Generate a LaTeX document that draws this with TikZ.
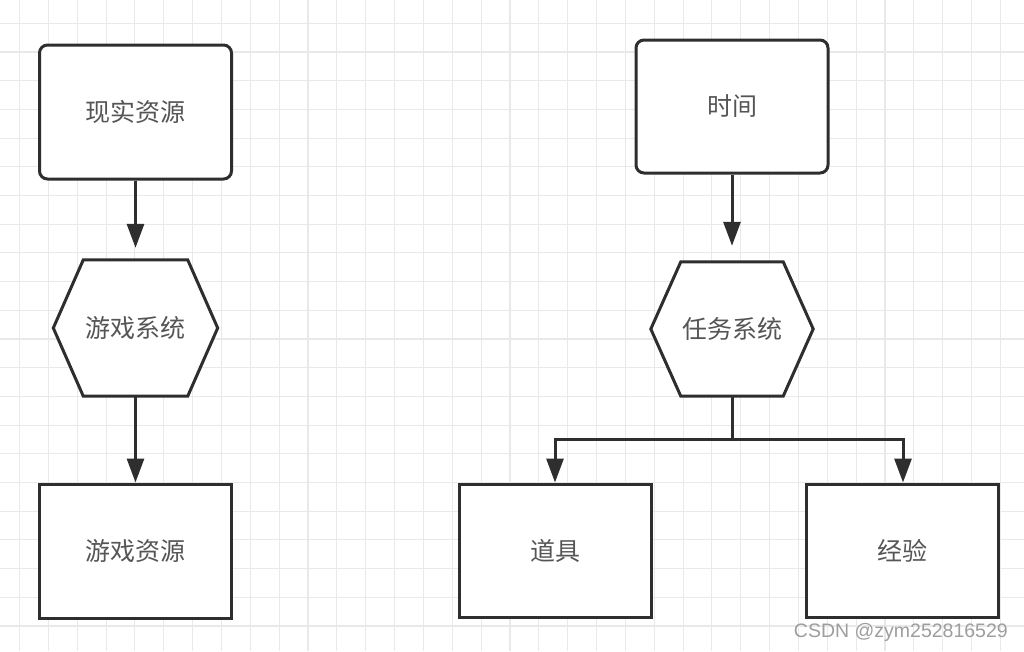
\documentclass[tikz,border=0pt]{standalone}
\usepackage{fontspec}
\newfontfamily\cjk{Noto Sans CJK SC}
\newfontfamily\wm{Liberation Sans}
\usetikzlibrary{arrows.meta}
\pgfdeclarelayer{gridlayer}
\pgfdeclarelayer{shapelayer}
\pgfsetlayers{gridlayer,shapelayer,main}
\definecolor{lineC}{HTML}{2E2E2E}
\definecolor{textC}{HTML}{555555}
\definecolor{gridC}{HTML}{E9E9E9}
\tikzset{
  x=1pt, y=-1pt,
  boxbase/.style={draw=lineC, line width=3pt, fill=white, minimum width=192pt, minimum height=134pt,
    font=\cjk\fontsize{25}{25}\selectfont, text=textC, inner sep=0pt},
  roundbox/.style={boxbase, rounded corners=8pt},
  plainbox/.style={boxbase},
  hextext/.style={minimum width=#1, minimum height=136pt, inner sep=0pt,
    font=\cjk\fontsize{25}{25}\selectfont, text=textC},
  hexline/.style={draw=lineC, line width=3pt, fill=white, line join=miter},
  conn/.style={draw=lineC, line width=3pt, -{Triangle[width=17pt,length=24pt]}},
  plain/.style={draw=lineC, line width=3pt},
}
\begin{document}
\begin{tikzpicture}
\useasboundingbox (0,0) rectangle (1024,651);
\begin{pgfonlayer}{gridlayer}
  \fill[white] (0,0) rectangle (1024,651);
  \foreach \i in {0,...,35} {\draw[gridC, line width=1.1pt] ({19.5+28.85*\i},0) -- ({19.5+28.85*\i},651);}
  \foreach \j in {0,...,22} {\draw[gridC, line width=1.1pt] (0,{23.3+28.7*\j}) -- (1024,{23.3+28.7*\j});}
\end{pgfonlayer}

% left column
\node[roundbox] (xs) at (135.5,112) {现实资源};
\node[hextext=164pt] (yx) at (135.5,328) {游戏系统};
\node[plainbox] (yz) at (135.5,551) {游戏资源};

% right column
\node[roundbox, minimum height=133pt] (sj) at (732,106.5) {时间};
\node[hextext=162pt, minimum height=134pt] (rw) at (732,329) {任务系统};
\node[plainbox, minimum height=133pt] (dj) at (555,550.5) {道具};
\node[plainbox, minimum height=133pt] (jy) at (902,550.5) {经验};

\begin{pgfonlayer}{shapelayer}
  \draw[hexline] ([xshift=30pt]yx.north west) -- ([xshift=-30pt]yx.north east) -- (yx.east)
     -- ([xshift=-30pt]yx.south east) -- ([xshift=30pt]yx.south west) -- (yx.west) -- cycle;
  \draw[hexline] ([xshift=30pt]rw.north west) -- ([xshift=-30pt]rw.north east) -- (rw.east)
     -- ([xshift=-30pt]rw.south east) -- ([xshift=30pt]rw.south west) -- (rw.west) -- cycle;
\end{pgfonlayer}

\draw[conn, shorten >=12pt] (xs.south) -- (yx.north);
\draw[conn] (yx.south) -- (yz.north);
\draw[conn, shorten >=16pt] (sj.south) -- (rw.north);

\coordinate (br) at (732,439);
\draw[plain] (rw.south) -- (br);
\draw[conn] (br) -| (dj.north);
\draw[conn] (br) -| ([xshift=1pt]jy.north);

\node[font=\wm\fontsize{19.5}{19.5}\selectfont, text=black!38, anchor=east, inner sep=0pt] (wmk) at (1008,632) {CSDN @zym252816529};
\end{tikzpicture}
\end{document}
